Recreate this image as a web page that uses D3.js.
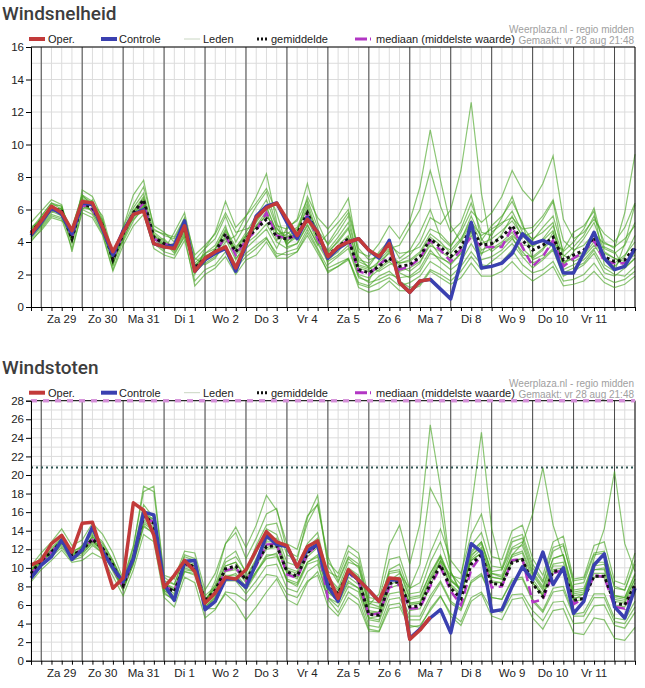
<!DOCTYPE html>
<html>
<head>
<meta charset="utf-8">
<script src="https://cdn.jsdelivr.net/npm/d3@7"></script>
<style>
  body { margin: 0; background: #fff; }
  svg { display: block; font-family: "Liberation Sans", Arial, sans-serif; }
</style>
</head>
<body>
<svg id="chart" width="645" height="688"></svg>
<script>
// tijdas: elke 6 uur vanaf vr 28 aug 18:00
const startTime = new Date(2020, 7, 28, 18);
const nSteps = 60;
const times = d3.range(nSteps).map(i => d3.timeHour.offset(startTime, 6 * i));
const dayLabels = ["Za 29", "Zo 30", "Ma 31", "Di 1", "Wo 2", "Do 3", "Vr 4",
                   "Za 5", "Zo 6", "Ma 7", "Di 8", "Wo 9", "Do 10", "Vr 11"];

// ---- Windsnelheid ----
const speedOper = [4.5,5.3,6.2,5.8,4.7,6.5,6.4,4.9,3.4,4.6,5.7,5.9,3.9,3.7,3.6,5.0,2.2,3.0,3.4,3.7,
  2.4,3.9,5.5,6.1,6.4,5.4,4.4,5.4,4.6,3.1,3.7,4.0,4.2,3.5,3.1,3.9,1.5,0.9,1.6,1.7];
const speedControle = [4.4,5.2,6.1,5.7,4.5,6.4,6.3,4.8,3.2,4.7,5.7,6.0,3.9,3.7,3.8,5.3,2.2,2.9,3.3,3.6,
  2.2,3.8,5.6,6.2,6.4,5.2,4.2,5.5,4.6,3.0,3.6,4.0,4.2,3.5,3.0,4.1,1.5,0.9,1.6,1.7,
  1.1,0.5,2.8,5.2,2.4,2.5,2.7,3.3,4.5,3.9,4.1,3.8,2.1,2.1,3.3,4.6,3.0,2.3,2.5,3.6];
const speedMean = [4.6,5.3,6.1,5.9,4.2,6.4,6.1,5.0,2.9,4.5,5.8,6.6,4.3,3.9,3.7,4.9,2.4,3.0,3.4,4.5,
  3.4,4.2,4.8,5.4,4.3,4.2,4.5,5.8,4.4,3.2,3.7,4.2,2.3,2.1,2.5,3.0,2.5,2.6,3.1,4.2,
  3.7,3.1,3.7,4.9,3.8,3.9,4.3,5.0,4.1,3.5,3.8,4.3,2.9,3.2,3.5,4.3,3.1,2.8,2.9,3.7];
const speedMedian = [4.5,5.3,6.0,5.8,4.3,6.3,6.0,4.9,3.0,4.5,5.7,6.4,4.2,3.9,3.7,5.0,2.3,3.0,3.3,4.4,
  3.2,4.1,4.7,5.8,4.4,4.2,4.4,5.7,4.2,3.0,3.6,4.2,2.2,2.0,2.6,3.1,2.3,2.5,3.0,4.1,
  3.5,2.8,3.5,4.3,3.7,3.7,3.7,4.9,3.7,2.5,3.1,4.1,2.5,3.0,3.4,4.1,2.8,2.7,2.7,3.6];
const speedMembers = [
  [5.2,5.9,6.6,6.3,4.0,7.2,6.8,5.4,2.5,4.9,6.9,7.8,4.8,4.4,4.2,5.4,2.0,3.6,4.2,5.6,4.0,5.1,6.2,7.1,5.0,4.8,5.4,7.6,5.2,3.8,4.6,5.6,2.8,2.5,3.4,4.1,3.0,3.5,4.6,6.0,4.3,3.7,4.8,6.4,4.6,4.4,5.5,6.8,5.0,4.1,4.9,5.6,3.4,4.0,4.8,6.1,3.6,3.3,3.8,5.2],
  [4.0,4.8,5.6,5.4,3.6,5.8,5.5,4.4,2.2,3.8,5.0,5.7,3.6,3.2,3.0,4.1,1.6,2.3,2.6,3.4,2.4,3.1,3.6,4.2,3.3,3.2,3.4,4.4,3.3,2.2,2.5,2.9,1.4,1.2,1.5,1.8,1.3,1.5,1.9,2.8,2.4,1.9,2.5,3.4,2.6,2.5,2.8,3.5,2.6,2.1,2.3,2.8,1.6,1.7,2.0,2.7,1.8,1.5,1.7,2.2],
  [4.8,5.6,6.4,6.0,4.8,6.9,6.2,5.2,3.4,4.0,5.3,6.2,4.0,3.5,4.6,5.8,3.0,2.6,3.0,4.0,4.4,5.6,6.4,7.3,5.8,3.7,3.9,5.1,3.8,4.5,5.2,6.0,3.6,2.9,3.1,3.6,3.8,4.9,6.0,8.4,6.2,4.6,5.2,6.9,4.1,5.0,5.6,6.5,5.2,2.9,3.2,3.9,3.5,4.6,5.0,5.9,2.6,2.2,3.9,6.3],
  [4.3,5.0,5.8,6.1,4.5,6.0,6.6,4.7,2.7,4.7,6.1,7.0,4.6,4.1,3.4,4.5,2.7,3.3,3.8,5.0,3.0,3.6,4.2,4.8,3.6,4.9,5.3,6.6,4.9,2.6,3.1,3.6,1.8,1.6,2.9,3.5,2.1,1.8,2.2,3.3,3.0,2.7,3.3,4.4,3.2,4.6,5.1,5.9,4.6,4.2,4.6,5.2,2.3,2.6,2.9,3.6,3.7,3.4,2.4,3.0],
  [4.9,5.4,5.9,5.6,4.1,6.6,5.8,4.8,3.1,4.6,5.6,6.3,4.4,3.8,3.9,5.2,2.1,2.8,3.6,4.8,3.7,4.4,5.2,6.1,4.6,4.0,4.7,6.2,4.1,3.4,4.0,4.8,2.6,2.4,2.2,2.6,2.8,3.2,4.0,5.5,5.1,6.0,8.4,12.6,7.0,3.6,4.0,4.6,3.6,3.0,3.5,4.6,2.7,3.0,3.2,4.0,3.3,3.0,2.6,3.4],
  [4.4,5.1,6.3,6.2,3.9,6.1,6.0,5.1,2.6,4.3,5.9,6.8,4.1,4.2,3.5,4.6,2.5,3.2,3.2,4.2,2.9,4.0,5.0,5.9,4.1,4.5,4.9,6.4,4.5,2.9,3.4,4.3,2.0,1.8,2.3,2.8,2.2,2.4,2.8,3.8,3.4,3.0,3.6,4.7,3.5,3.8,4.5,5.6,4.3,4.6,5.4,6.5,3.2,2.8,3.1,3.8,2.9,2.5,3.1,4.4],
  [4.7,5.5,6.2,5.8,4.4,6.8,6.4,5.6,3.3,4.8,5.4,6.0,4.7,4.5,4.3,5.5,3.2,3.8,4.5,5.8,4.6,4.8,5.0,5.6,4.8,4.3,4.8,6.0,4.7,3.9,4.9,5.8,3.4,3.1,3.9,5.0,4.2,5.3,7.4,10.9,7.8,5.0,4.0,5.2,4.4,4.8,5.2,5.5,4.8,4.9,5.6,6.6,4.1,3.5,3.8,4.5,3.9,3.7,4.2,5.0],
  [4.5,5.2,5.9,5.9,4.6,6.2,6.0,4.9,2.8,4.4,5.7,6.5,4.2,3.6,3.8,5.0,2.2,2.7,3.1,3.8,2.6,3.3,3.8,4.3,3.1,3.4,3.6,4.8,3.6,2.4,2.7,3.0,1.5,1.3,1.9,2.2,1.6,1.2,1.4,2.3,2.0,1.6,2.2,3.1,2.3,2.8,3.3,3.9,3.1,2.4,2.9,3.5,1.9,2.2,2.6,3.3,2.1,1.9,2.4,3.0],
  [4.6,5.4,6.0,5.7,4.3,6.7,6.3,5.3,3.0,4.5,5.8,6.7,4.3,3.7,3.6,4.8,2.3,3.1,3.5,4.6,3.3,4.3,4.9,5.7,4.5,4.6,4.2,5.4,4.0,3.0,3.8,4.4,2.4,2.2,2.4,2.9,2.7,2.9,3.4,4.5,4.0,3.3,4.1,5.6,4.2,3.4,3.9,4.4,3.8,3.8,4.1,4.7,2.6,3.4,4.2,5.2,3.4,3.0,2.8,3.2],
  [4.2,4.9,5.7,5.5,4.0,6.3,5.9,4.6,2.7,4.2,5.5,6.4,4.5,4.0,3.3,4.3,2.6,2.9,3.3,4.3,3.6,4.6,5.6,6.6,4.9,3.9,4.3,5.7,4.3,3.5,4.3,5.2,2.9,2.7,3.3,3.8,3.3,3.4,3.7,4.8,4.5,3.8,4.6,5.9,5.2,5.8,6.8,8.4,7.2,6.5,7.6,9.3,5.4,4.2,4.6,5.4,4.5,4.0,4.9,6.4],
  [4.8,5.3,6.1,6.0,4.2,6.4,6.2,5.0,2.9,4.6,5.9,6.6,4.2,3.8,3.8,5.0,2.4,3.0,3.3,4.4,3.2,3.9,4.4,5.1,4.0,3.6,3.9,5.0,3.9,2.8,3.2,3.8,1.9,1.5,1.7,2.0,1.8,1.9,2.4,3.5,2.8,2.3,2.8,3.9,2.9,3.1,3.5,4.2,3.4,2.7,3.0,3.6,2.1,2.4,2.7,3.5,2.4,2.0,1.9,2.5],
  [4.4,5.0,6.0,6.1,4.3,6.5,6.3,5.1,3.0,4.5,5.7,6.5,4.4,3.9,3.7,4.7,2.5,3.3,3.6,4.7,3.5,4.4,5.3,6.2,4.6,4.1,4.3,5.5,4.2,3.3,4.1,4.9,2.5,2.3,2.8,3.3,2.7,2.8,3.3,4.3,3.8,3.5,4.2,5.3,3.9,4.2,4.7,5.3,4.4,3.7,4.2,5.0,3.1,3.7,4.4,5.6,4.0,3.6,5.8,9.4],
  [4.1,4.7,5.5,5.3,4.9,6.9,6.5,5.3,2.8,4.9,6.3,7.4,5.0,4.6,4.0,5.1,2.9,3.6,4.6,6.5,4.9,5.6,6.8,8.2,5.2,3.8,4.6,6.8,5.5,4.8,5.6,6.7,3.1,2.4,2.6,3.4,2.5,2.2,2.7,4.0,3.1,2.6,3.3,4.6,3.3,3.6,3.8,4.3,3.2,3.1,3.6,4.1,2.8,3.0,3.4,4.2,3.0,2.7,3.2,4.0],
  [4.3,5.6,6.4,6.2,3.4,6.0,5.7,4.5,2.3,4.1,5.6,6.2,3.9,3.4,3.2,4.4,1.3,2.0,2.4,3.1,2.0,2.9,3.2,4.0,3.0,3.0,3.4,4.6,3.5,2.1,2.5,3.0,1.2,0.9,1.1,1.6,1.0,1.0,1.3,2.2,1.8,1.4,1.8,2.7,1.9,1.9,2.2,2.8,2.1,1.6,2.0,2.5,1.3,1.4,1.6,2.2,1.5,1.2,1.4,1.9]
];

// ---- Windstoten ----
const gustOper = [10.3,10.8,12.6,13.5,11.7,14.8,14.9,11.4,7.8,8.9,17.0,16.2,13.5,7.9,9.2,10.8,9.6,6.2,7.3,9.0,
  8.8,9.8,11.9,13.9,12.8,12.4,10.1,12.3,12.9,9.2,6.7,9.8,8.7,7.6,6.4,8.9,8.8,2.3,3.3,4.7];
const gustControle = [8.9,10.3,11.2,13.0,10.9,11.9,14.4,11.7,10.0,8.5,11.0,16.0,15.7,8.2,6.5,10.7,10.8,5.5,6.4,8.8,
  8.8,7.9,10.5,13.5,12.5,12.3,10.1,11.9,12.5,8.0,6.4,9.6,8.7,7.6,6.4,8.7,8.7,2.4,3.4,4.6,
  5.5,3.0,7.8,12.6,11.7,5.3,5.5,8.0,10.1,8.7,11.7,8.2,10.0,5.1,6.4,10.3,11.5,5.8,4.6,7.8];
const gustMean = [9.4,10.8,11.7,12.9,11.4,11.9,13.1,12.1,10.3,8.1,11.1,15.6,14.8,8.1,7.4,10.5,10.1,6.4,7.6,9.9,
  10.2,8.7,10.5,12.3,12.4,9.6,9.1,11.6,12.6,8.3,7.2,9.6,8.7,5.0,4.9,8.3,8.5,5.8,5.9,8.3,
  10.3,7.8,6.7,10.4,11.4,8.3,8.2,10.6,10.9,8.3,6.9,9.6,9.8,6.5,6.7,9.1,9.1,6.2,6.0,8.2];
const gustMedian = [9.3,10.7,11.7,12.9,11.3,12.0,13.0,12.0,10.0,8.0,11.0,15.5,14.9,8.0,7.5,10.4,10.0,6.2,7.4,9.7,
  10.0,8.6,10.2,12.5,12.6,9.3,8.9,11.5,12.5,6.7,7.0,9.5,8.5,4.9,5.1,7.9,8.2,5.6,5.7,8.0,
  10.1,7.5,6.0,9.8,11.4,7.9,8.0,10.8,11.0,6.3,6.6,9.4,9.8,6.1,6.7,9.2,9.0,5.8,5.6,8.0];
const gustMembers = [
  [10.2,11.6,12.8,14.2,12.4,13.0,14.8,13.6,11.6,8.8,12.4,18.2,18.8,9.2,8.8,11.8,11.6,7.6,9.4,12.6,13.8,11.0,13.2,15.8,16.4,11.8,11.2,14.8,16.9,10.6,9.4,12.4,11.6,6.8,6.6,10.9,11.2,7.8,8.4,11.6,14.2,10.8,9.4,13.6,15.8,11.2,10.9,14.0,14.6,11.0,9.2,12.8,13.4,8.8,9.0,12.4,12.8,8.6,8.2,11.6],
  [8.5,9.8,10.8,11.9,10.6,10.8,11.6,11.0,9.1,7.0,9.8,13.6,12.8,6.8,5.8,9.0,8.4,4.6,5.5,7.4,7.2,6.4,7.8,9.3,9.1,7.2,6.8,8.6,9.2,5.9,4.8,6.8,6.0,3.2,3.1,5.6,5.8,3.6,3.8,5.4,6.9,5.1,4.2,6.8,7.4,5.5,5.2,7.1,7.2,5.4,4.3,6.3,6.4,4.0,4.1,5.9,6.0,3.8,3.5,5.2],
  [9.8,11.2,12.2,13.2,11.0,12.4,13.6,12.6,10.8,8.4,11.8,16.8,15.4,8.6,8.2,11.2,10.8,6.2,8.2,11.0,11.8,9.4,11.6,14.2,13.6,10.6,10.2,12.6,13.8,9.0,7.8,10.6,10.2,6.0,7.2,12.4,14.6,10.4,14.8,25.4,18.6,9.6,7.2,11.2,12.6,9.4,9.0,11.4,11.8,9.2,7.6,10.4,10.6,7.2,7.4,9.8,10.0,6.8,6.6,8.8],
  [9.0,10.4,11.4,12.6,11.8,12.2,12.8,11.8,9.8,7.8,10.6,15.0,14.2,7.6,6.8,10.0,9.6,5.8,6.8,8.8,9.0,7.6,9.4,11.2,11.6,8.6,8.2,10.6,11.4,7.4,6.6,9.0,8.2,4.6,4.4,7.8,8.2,5.4,5.6,8.0,10.8,9.2,8.8,16.4,24.6,14.2,9.8,12.2,12.8,9.6,8.0,11.0,11.4,7.6,7.8,10.6,10.6,7.0,6.8,9.2],
  [9.6,11.0,11.9,13.0,11.2,11.6,13.4,12.4,10.6,8.2,11.4,16.2,15.6,8.4,7.6,10.8,10.4,6.6,7.8,10.2,10.6,9.0,11.0,13.0,13.2,10.0,9.6,12.2,13.2,8.6,7.6,10.0,9.2,5.4,5.2,8.8,9.0,6.2,6.2,8.8,10.8,8.2,7.2,11.0,12.0,9.0,8.8,11.4,12.6,15.8,20.8,14.6,11.2,7.0,7.2,9.8,9.8,6.6,6.4,8.8],
  [9.2,10.6,11.6,12.8,11.6,11.6,12.6,11.6,9.6,7.6,10.4,14.6,13.6,7.4,6.4,9.6,9.2,5.6,6.6,8.6,8.6,7.2,8.6,10.2,10.4,7.8,7.4,9.6,10.4,6.8,5.8,8.0,7.4,3.8,3.6,6.6,6.8,4.4,4.4,6.6,8.4,6.2,5.4,8.4,9.2,6.8,6.6,8.8,9.0,6.6,5.4,7.8,8.0,5.0,5.2,7.2,7.2,4.6,4.4,6.4],
  [9.6,10.9,11.8,13.0,11.2,12.2,13.2,12.2,10.4,8.2,11.2,15.8,15.0,8.2,7.6,10.6,10.2,6.6,7.8,10.2,10.6,8.8,10.8,12.8,12.8,9.8,9.4,11.8,12.8,8.4,7.4,9.8,9.0,5.2,5.2,8.6,8.8,6.0,6.2,8.6,10.6,8.0,7.0,10.8,11.6,8.6,8.4,10.8,11.0,8.4,7.0,9.8,10.0,6.6,7.2,11.0,14.2,20.4,12.6,9.6],
  [9.4,10.8,11.6,12.8,11.4,11.8,13.4,12.2,10.2,8.0,11.0,15.4,14.6,8.0,7.2,10.4,10.0,6.2,8.6,12.6,14.4,12.2,14.6,17.8,16.2,12.6,12.0,15.6,16.8,11.2,8.6,11.2,10.4,6.4,6.2,9.6,9.8,6.8,7.0,9.4,11.2,8.6,7.6,11.4,12.2,9.0,8.8,11.2,11.6,8.8,7.2,10.2,10.2,6.8,6.8,9.4,9.4,6.4,6.2,8.4],
  [9.0,10.6,11.8,13.0,11.0,11.8,12.8,12.2,10.0,7.8,10.8,15.2,14.4,7.8,7.0,10.2,9.8,6.0,7.0,9.2,9.2,7.8,9.6,11.0,11.2,8.8,8.4,10.6,11.2,7.4,6.4,8.6,7.8,4.4,4.2,7.2,7.4,4.8,4.8,7.0,8.6,6.4,5.6,8.6,9.4,6.8,6.6,8.6,8.8,6.4,5.2,7.4,7.6,4.8,4.8,6.8,6.8,4.2,4.0,5.8],
  [9.8,11.0,11.6,12.6,11.6,12.4,13.8,12.8,10.8,8.6,12.2,18.8,18.2,9.0,8.2,11.4,11.0,7.0,8.0,10.6,11.2,9.6,12.4,14.6,14.8,11.4,10.8,15.4,17.8,10.2,8.4,11.0,10.0,5.8,5.6,9.4,9.6,6.6,6.8,9.4,11.4,8.8,7.6,11.8,12.8,9.4,9.2,12.0,12.4,9.4,7.8,11.0,11.4,7.4,7.6,10.2,10.4,7.0,6.8,9.4],
  [9.2,10.4,11.4,12.4,11.0,11.4,12.8,11.8,10.0,7.8,10.6,14.8,14.0,7.6,6.8,9.8,9.6,5.6,5.6,7.2,6.2,4.4,5.8,7.4,8.8,6.6,6.0,8.4,9.6,6.8,6.2,8.4,7.8,4.6,4.8,8.2,8.6,6.2,6.4,9.0,11.2,8.6,7.8,11.6,12.8,9.6,9.8,12.8,13.2,10.0,8.4,11.8,12.4,8.6,8.8,11.6,11.8,8.0,7.6,10.4],
  [9.6,11.0,12.0,13.2,11.6,12.0,13.0,12.0,10.2,8.0,11.0,15.8,15.2,8.2,7.6,10.6,10.2,6.6,7.4,9.6,9.8,8.4,10.2,12.0,12.2,9.4,8.8,11.2,12.2,9.6,9.0,11.8,11.0,6.2,5.8,9.8,10.4,7.2,7.4,10.6,12.8,9.4,8.2,12.4,13.8,10.2,10.0,13.2,13.6,10.4,8.6,12.2,12.6,8.2,8.4,11.4,11.6,7.8,7.6,10.8],
  [9.0,10.2,11.2,12.2,10.8,11.2,12.4,11.6,9.8,7.6,10.4,14.4,13.8,7.2,6.6,9.6,9.4,5.8,6.8,9.0,9.4,8.0,9.6,11.4,11.4,8.6,8.0,10.4,10.8,6.6,5.2,7.4,6.6,3.4,3.2,6.0,6.2,3.8,3.6,5.6,7.0,4.8,3.8,6.4,7.2,4.8,4.4,6.6,6.8,4.6,3.4,5.4,5.6,3.0,2.8,4.6,4.4,2.4,2.2,3.6],
  [9.4,10.8,11.8,12.8,11.4,12.0,13.0,12.0,10.4,8.2,11.4,16.0,15.2,8.4,7.8,10.6,10.2,6.4,7.6,9.8,10.0,8.6,10.4,12.2,12.4,9.6,9.0,11.6,12.4,8.2,7.0,9.4,8.6,5.0,5.0,8.6,9.4,7.8,10.4,18.6,16.4,9.6,7.4,10.8,11.6,8.4,8.4,10.6,11.0,8.4,7.0,9.6,9.8,6.4,6.6,9.0,9.0,6.0,5.8,8.0]
];
const gustThresholds = [20.8, 28];

const svg = d3.select("#chart");
const x = d3.scaleTime().domain([times[0], times[nSteps - 1]]).range([31, 635]);
const days = d3.timeDay.range(times[0], times[nSteps - 1]);

function drawChart(c) {
  const y = d3.scaleLinear().domain([0, c.yMax]).range([c.bottom, c.top]);
  const g = svg.append("g");
  const line = d3.line().x((d, i) => x(times[i])).y(d => y(d));

  g.append("text").attr("x", 2).attr("y", c.top - 27)
    .style("font-family", "Roboto, sans-serif").style("font-weight", 500)
    .style("font-size", "19px").style("fill", "#3d3d3d").text(c.title);

  // raster
  g.selectAll(".hgrid").data(d3.range(1, c.yMax + 1)).join("line")
    .attr("x1", 31).attr("x2", 635).attr("y1", d => y(d)).attr("y2", d => y(d))
    .style("stroke", "#dcdcdc").style("stroke-width", 1);
  g.selectAll(".vgrid").data(times).join("line")
    .attr("x1", d => x(d)).attr("x2", d => x(d)).attr("y1", c.top).attr("y2", c.bottom)
    .style("stroke", "#dcdcdc").style("stroke-width", 1);
  g.selectAll(".dgrid").data(days).join("line")
    .attr("x1", d => x(d)).attr("x2", d => x(d)).attr("y1", c.top).attr("y2", c.bottom)
    .style("stroke", "#4a4a4a").style("stroke-width", 1);

  // leden
  g.selectAll(".member").data(c.members).join("path")
    .attr("d", line).style("fill", "none")
    .style("stroke", "#43a31f").style("stroke-opacity", 0.62).style("stroke-width", 1.2);

  // drempels
  (c.thresholds || []).forEach((t, k) => {
    g.append("line").attr("x1", 31).attr("x2", 635).attr("y1", y(t)).attr("y2", y(t))
      .style("stroke", k === 0 ? "#2f5552" : "#d48fd8")
      .style("stroke-width", k === 0 ? 2 : 3)
      .style("stroke-dasharray", k === 0 ? "2,3" : "6,6");
  });

  g.append("path").attr("d", line(c.median)).style("fill", "none")
    .style("stroke", "#b236c4").style("stroke-width", 2.5).style("stroke-dasharray", "9,5");
  g.append("path").attr("d", line(c.mean)).style("fill", "none")
    .style("stroke", "#111").style("stroke-width", 3).style("stroke-dasharray", "3,3");
  g.append("path").attr("d", line(c.controle)).style("fill", "none")
    .style("stroke", "#3a40b0").style("stroke-width", 3.5).style("stroke-linejoin", "round");
  g.append("path").attr("d", line(c.oper)).style("fill", "none")
    .style("stroke", "#c23a3a").style("stroke-width", 3.5).style("stroke-linejoin", "round");

  // randen
  g.append("line").attr("x1", 31).attr("x2", 635).attr("y1", c.top).attr("y2", c.top)
    .style("stroke", "#000");
  g.append("line").attr("x1", 635).attr("x2", 635).attr("y1", c.top).attr("y2", c.bottom)
    .style("stroke", "#000");
  if (c.thresholds) {
    g.append("line").attr("x1", 31).attr("x2", 635).attr("y1", y(c.yMax)).attr("y2", y(c.yMax))
      .style("stroke", "#d48fd8").style("stroke-width", 3).style("stroke-dasharray", "6,6");
  }

  const ya = g.append("g").attr("transform", "translate(31,0)")
    .call(d3.axisLeft(y).tickValues(d3.range(0, c.yMax + 1, 2)).tickSize(5).tickPadding(2));
  ya.selectAll("text").style("font-size", "11.5px").style("fill", "#222");
  g.append("g").attr("transform", `translate(0,${c.bottom})`)
    .call(d3.axisBottom(x).tickValues(times).tickSize(4).tickFormat(""));
  g.selectAll(".daylabel").data(dayLabels).join("text")
    .attr("x", (d, i) => x(d3.timeHour.offset(days[i], 12)))
    .attr("y", c.bottom + 16).attr("text-anchor", "middle")
    .style("font-size", "11.5px").style("fill", "#222").text(d => d);

  // legenda
  const legend = [
    { label: "Oper.", color: "#c23a3a", w: 4, dash: null, x: 29, len: 16, tx: 48 },
    { label: "Controle", color: "#3a40b0", w: 4, dash: null, x: 101, len: 16, tx: 119 },
    { label: "Leden", color: "#c9d6c2", w: 1, dash: null, x: 184, len: 16, tx: 203 },
    { label: "gemiddelde", color: "#111", w: 3, dash: "2,2", x: 257, len: 11, tx: 271 },
    { label: "mediaan (middelste waarde)", color: "#b236c4", w: 3, dash: "12,3,1,3", x: 355, len: 16, tx: 376 }
  ];
  const ly = c.top - 8;
  legend.forEach(l => {
    g.append("line").attr("x1", l.x).attr("x2", l.x + l.len).attr("y1", ly).attr("y2", ly)
      .style("stroke", l.color).style("stroke-width", l.w)
      .style("stroke-dasharray", l.dash);
    g.append("text").attr("x", l.tx).attr("y", ly + 4)
      .style("font-size", "11px").style("fill", "#222").text(l.label);
  });
  g.append("text").attr("x", 634).attr("y", c.top - 14).attr("text-anchor", "end")
    .style("font-size", "10px").style("fill", "#a0a0a0").text("Weerplaza.nl - regio midden");
  g.append("text").attr("x", 634).attr("y", c.top - 3).attr("text-anchor", "end")
    .style("font-size", "10px").style("fill", "#a0a0a0").text("Gemaakt: vr 28 aug 21:48");
}

drawChart({ title: "Windsnelheid", top: 47, bottom: 307, yMax: 16,
  oper: speedOper, controle: speedControle, mean: speedMean, median: speedMedian,
  members: speedMembers });
drawChart({ title: "Windstoten", top: 400.7, bottom: 660.7, yMax: 28,
  oper: gustOper, controle: gustControle, mean: gustMean, median: gustMedian,
  members: gustMembers, thresholds: gustThresholds });
</script>
</body>
</html>
